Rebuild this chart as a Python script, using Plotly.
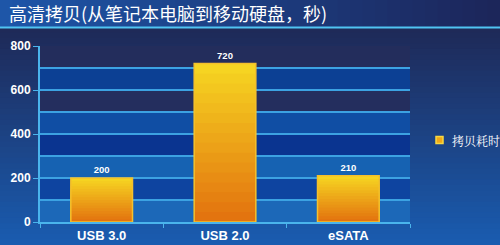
import plotly.graph_objects as go
import numpy as np

categories = ["USB 3.0", "USB 2.0", "eSATA"]
copy_seconds = [200, 720, 210]
series_name = "拷贝耗时"
title_text = "高清拷贝(从笔记本电脑到移动硬盘，秒)"
y_ticks = [0, 200, 400, 600, 800]

W, H = 500, 245
L, R, T, B = 40, 90, 46, 23
PW, PH = W - L - R, H - T - B

def px_x(x):
    return (x - L) / PW

def px_y(y):
    return (H - B - y) / PH

fig = go.Figure()

# gradient bars: overlay steps from yellow (top) to orange (bottom)
n = 16
top_c = np.array([246, 212, 34])
bot_c = np.array([226, 110, 14])
for k in range(n):
    f = k / n
    c = top_c + (bot_c - top_c) * f
    col = f"rgb({int(c[0])},{int(c[1])},{int(c[2])})"
    fig.add_trace(go.Bar(
        x=categories, y=[v * (1 - f) for v in copy_seconds],
        marker=dict(color=col, line=dict(width=0)),
        width=0.5, showlegend=False, hoverinfo="skip"))
# outline + labels
fig.add_trace(go.Bar(
    x=categories, y=copy_seconds, name=series_name,
    marker=dict(color="rgba(0,0,0,0)", line=dict(color="#f4c02c", width=1.5)),
    width=0.5, text=[f"<b>{v}</b>" for v in copy_seconds], textposition="outside",
    textfont=dict(color="white", size=9.5, family="Liberation Sans, Arial"),
    cliponaxis=False, showlegend=False))

shapes = []
# paper background gradient
m = 40
for i in range(m):
    f = i / (m - 1)
    c0 = np.array([31, 42, 88]); c1 = np.array([26, 92, 176])
    c = c0 + (c1 - c0) * f
    ytop = 27 + i * (H - 27) / m
    ybot = 27 + (i + 1) * (H - 27) / m + 1
    shapes.append(dict(type="rect", xref="paper", yref="paper",
                       x0=px_x(-5), x1=px_x(W + 5), y0=px_y(ybot + (20 if i == m - 1 else 0)), y1=px_y(ytop),
                       fillcolor=f"rgb({int(c[0])},{int(c[1])},{int(c[2])})",
                       line=dict(width=0), layer="below"))
# plot bands (from 0-100 upward)
bands = [(28, 104, 184), (14, 68, 160), (22, 98, 178), (10, 52, 144),
         (16, 78, 164), (36, 46, 94), (12, 64, 148), (35, 45, 92)]
for b, col in enumerate(bands):
    shapes.append(dict(type="rect", xref="paper", yref="y", x0=0, x1=1, y0=b * 100, y1=(b + 1) * 100,
                       fillcolor=f"rgb{col}", line=dict(width=0), layer="below"))
# title bar
tb = 40
for i in range(tb):
    f = i / (tb - 1)
    c0 = np.array([30, 86, 168]); c1 = np.array([28, 38, 90])
    c = c0 + (c1 - c0) * f
    shapes.append(dict(type="rect", xref="paper", yref="paper",
                       x0=px_x(i * W / tb), x1=px_x((i + 1) * W / tb + 1),
                       y0=px_y(27), y1=px_y(-5),
                       fillcolor=f"rgb({int(c[0])},{int(c[1])},{int(c[2])})",
                       line=dict(width=0), layer="below"))
# title underline
shapes.append(dict(type="line", xref="paper", yref="paper",
                   x0=px_x(0), x1=px_x(W), y0=px_y(27.5), y1=px_y(27.5),
                   line=dict(color="#50c4f2", width=2)))
# legend swatch
shapes.append(dict(type="rect", xref="paper", yref="paper",
                   x0=px_x(436), x1=px_x(443), y0=px_y(143.5), y1=px_y(136.5),
                   fillcolor="#f0a818", line=dict(color="#f8d840", width=1.5)))

fig.update_layout(
    width=W, height=H, margin=dict(l=L, r=R, t=T, b=B, autoexpand=False),
    paper_bgcolor="#1e3a78", plot_bgcolor="rgba(0,0,0,0)",
    barmode="overlay", shapes=shapes,
    showlegend=False,
    xaxis=dict(showline=True, linecolor="#4ab4ec", linewidth=2,
               tickvals=categories, ticktext=[f"<b>{c}</b>" for c in categories],
               ticks="outside", tickson="boundaries", ticklen=4, tickcolor="#4ab4ec",
               tickfont=dict(color="white", size=13, family="Liberation Sans, Arial"),
               showgrid=False, fixedrange=True, automargin=False),
    yaxis=dict(range=[0, 800], tickvals=y_ticks, ticktext=[f"<b>{v}</b>" for v in y_ticks],
               showline=True, linecolor="#4ab4ec", linewidth=2,
               ticks="outside", ticklen=5, tickcolor="#4ab4ec",
               tickfont=dict(color="white", size=12, family="Liberation Sans, Arial"),
               showgrid=True, gridcolor="#3ca2e2", gridwidth=2,
               minor=dict(showgrid=True, dtick=100, gridcolor="#3ca2e2", gridwidth=2),
               zeroline=False, fixedrange=True, automargin=False),
    annotations=[
        dict(text=title_text, xref="paper", yref="paper", x=px_x(7), y=px_y(13),
             xanchor="left", yanchor="middle", showarrow=False,
             font=dict(color="white", size=18, family="Noto Sans CJK SC")),
        dict(text=series_name, xref="paper", yref="paper", x=px_x(450), y=px_y(140),
             xanchor="left", yanchor="middle", showarrow=False,
             font=dict(color="white", size=12, family="Noto Serif CJK SC, Noto Sans CJK SC")),
    ],
)
fig.write_html("out.html")
